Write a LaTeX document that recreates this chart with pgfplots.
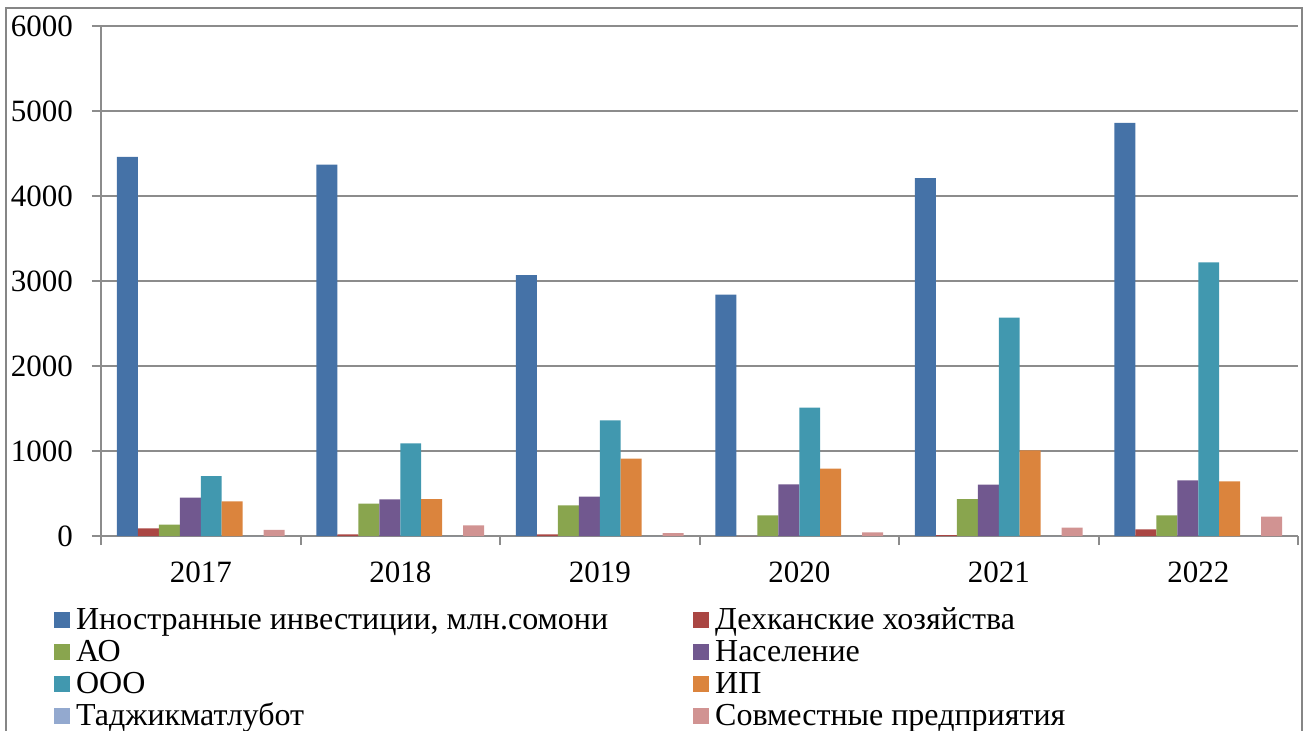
\documentclass[border=0pt]{standalone}
\usepackage{fontspec}
\setmainfont{Liberation Serif}
\usepackage{pgfplots}
\pgfplotsset{compat=1.18}

\definecolor{cInv}{RGB}{69,114,167}
\definecolor{cDekh}{RGB}{170,70,67}
\definecolor{cAO}{RGB}{137,165,78}
\definecolor{cNas}{RGB}{113,88,143}
\definecolor{cOOO}{RGB}{65,152,175}
\definecolor{cIP}{RGB}{219,132,61}
\definecolor{cTdj}{RGB}{147,169,207}
\definecolor{cJV}{RGB}{209,147,146}
\definecolor{gridgray}{RGB}{140,140,140}
\definecolor{framegray}{RGB}{134,134,134}

\newcommand\fs{\fontsize{15.5}{18}\selectfont}
\newcommand\fl{\fontsize{16}{18}\selectfont}

\pgfplotstableread{
x  inv   dekh  ao   nas  ooo   ip    tdj  jv
0  4460  90    133  451  705   408   0    71
1  4370  20    380  431  1090  435   0    125
2  3070  20    361  463  1360  910   0    35
3  2840  0     243  608  1510  792   0    43
4  4210  10    435  604  2570  1008  0    98
5  4860  78    243  655  3220  643   0    227
}\invdata

\begin{document}
\begin{tikzpicture}
% page area and chart frame
\path[use as bounding box] (0,0) rectangle (655.5pt,-365.5pt);
\draw[framegray, line width=0.8pt] (3pt,-366pt) -- (3pt,-4pt) -- (651pt,-4pt) -- (651pt,-366pt);

\begin{axis}[
  at={(50.5pt,-268pt)}, anchor=south west,
  scale only axis, width=598.5pt, height=255pt,
  xmin=-0.5, xmax=5.5, ymin=0, ymax=6000,
  ybar=0pt, bar width=0.105,
  axis x line*=bottom, axis y line*=left,
  axis line style={draw=gridgray, line width=1pt, -},
  tick align=outside,
  xtick={0,...,5},
  xticklabels={2017,2018,2019,2020,2021,2022},
  major x tick style={draw=none},
  minor xtick={-0.5,0.5,...,5.5},
  minor tick length=4.5pt,
  minor x tick style={draw=gridgray, line width=1pt},
  ytick={0,1000,...,6000},
  major tick length=4.5pt,
  ytick style={draw=gridgray, line width=1pt},
  ymajorgrids,
  grid style={draw=gridgray, line width=1pt},
  /pgf/number format/assume math mode=true,
  /pgf/number format/1000 sep={},
  tick label style={font=\fs, text=black},
  yticklabel style={xshift=-6pt},
  xticklabel style={yshift=-5pt},
  legend columns=2,
  legend cell align=left,
  legend style={font=\fl, draw=none, fill=none, inner sep=0pt,
    at={(rel axis cs:-0.0395,-0.135)}, anchor=north west,
    nodes={text height=11.5pt, text depth=3.5pt, inner ysep=0.5pt, inner xsep=3pt},
    /tikz/every even column/.append style={column sep=39.5pt},
    row sep=0pt},
  legend image code/.code={\fill[#1,draw=none] (0pt,-3.5pt) rectangle (8pt,4.5pt);},
]
\addplot[fill=cInv, draw=none]  table[x=x,y=inv]  {\invdata};
\addlegendentry{Иностранные инвестиции, млн.сомони}
\addplot[fill=cDekh, draw=none] table[x=x,y=dekh] {\invdata};
\addlegendentry{Дехканские хозяйства}
\addplot[fill=cAO, draw=none]   table[x=x,y=ao]   {\invdata};
\addlegendentry{АО}
\addplot[fill=cNas, draw=none]  table[x=x,y=nas]  {\invdata};
\addlegendentry{Население}
\addplot[fill=cOOO, draw=none]  table[x=x,y=ooo]  {\invdata};
\addlegendentry{ООО}
\addplot[fill=cIP, draw=none]   table[x=x,y=ip]   {\invdata};
\addlegendentry{ИП}
\addplot[fill=cTdj, draw=none]  table[x=x,y=tdj]  {\invdata};
\addlegendentry{Таджикматлубот}
\addplot[fill=cJV, draw=none]   table[x=x,y=jv]   {\invdata};
\addlegendentry{Совместные предприятия}
\end{axis}
\end{tikzpicture}
\end{document}
